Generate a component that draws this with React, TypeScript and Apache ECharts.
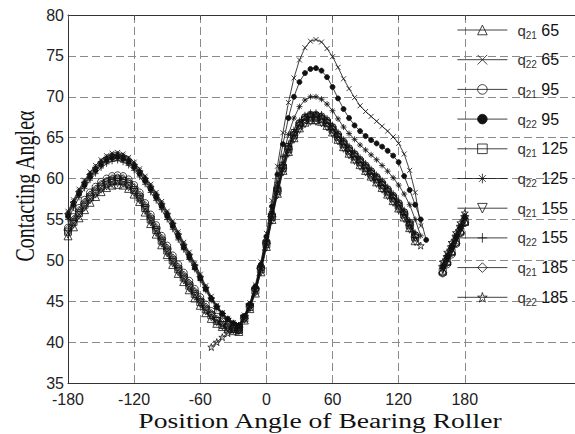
import { useEffect, useRef } from 'react';
import * as echarts from 'echarts';

// ---------- data ----------
const seriesNames = ['q21 65', 'q22 65', 'q21 95', 'q22 95', 'q21 125', 'q22 125', 'q21 155', 'q22 155', 'q21 185', 'q22 185'];
const xTicks = [-180, -120, -60, 0, 60, 120, 180];
const yMin = 35;
const yMax = 80;

const xLeft = [-180, -175, -170, -165, -160, -155, -150, -145, -140, -135, -130, -125, -120, -115, -110, -105, -100, -95, -90, -85, -80, -75, -70, -65, -60, -55, -50, -45, -40, -35, -30, -25];
const xLead = [-50, -45, -40, -35, -30];
const xMid = [-25, -20, -15, -10, -5, 0, 5, 10, 15, 20, 25, 30, 35, 40, 45, 50, 55, 60, 65, 70, 75, 80, 85, 90, 95, 100, 105, 110, 115, 120, 125, 130, 135, 140, 145];
const xRight = [160, 164, 168, 172, 176, 180];

// left hump
const q21_65_L = [53.0, 54.1, 55.2, 56.2, 57.1, 57.8, 58.4, 58.9, 59.2, 59.3, 59.2, 58.8, 58.1, 57.2, 55.9, 54.5, 53.2, 51.9, 50.7, 49.5, 48.4, 47.4, 46.4, 45.4, 44.5, 43.6, 42.9, 42.3, 41.9, 41.6, 41.4, 41.3];
const q21_95_L = [54.0, 55.3, 56.4, 57.4, 58.3, 59.0, 59.6, 60.0, 60.3, 60.4, 60.3, 59.9, 59.2, 58.3, 57.0, 55.6, 54.3, 53.0, 51.8, 50.6, 49.5, 48.5, 47.5, 46.5, 45.5, 44.6, 43.8, 43.1, 42.5, 42.1, 41.8, 41.6];
const q21_125_L = [53.5, 54.7, 55.8, 56.8, 57.7, 58.4, 59.0, 59.4, 59.7, 59.8, 59.7, 59.3, 58.6, 57.7, 56.4, 55.0, 53.7, 52.4, 51.2, 50.0, 48.9, 47.9, 46.9, 45.9, 44.9, 44.0, 43.3, 42.6, 42.1, 41.8, 41.6, 41.5];
const q21_155_L = [53.2, 54.4, 55.5, 56.5, 57.4, 58.1, 58.7, 59.1, 59.4, 59.5, 59.4, 59.0, 58.3, 57.4, 56.1, 54.7, 53.4, 52.1, 50.9, 49.7, 48.6, 47.6, 46.6, 45.6, 44.7, 43.8, 43.1, 42.5, 42.0, 41.7, 41.5, 41.4];
const q21_185_L = [53.8, 55.0, 56.1, 57.1, 58.0, 58.7, 59.3, 59.7, 60.0, 60.1, 60.0, 59.6, 58.9, 58.0, 56.7, 55.3, 54.0, 52.7, 51.5, 50.3, 49.2, 48.2, 47.2, 46.2, 45.2, 44.3, 43.5, 42.8, 42.3, 41.9, 41.7, 41.5];
const q22_65_L = [56.0, 57.4, 58.7, 59.8, 60.8, 61.6, 62.3, 62.8, 63.1, 63.2, 63.0, 62.6, 62.0, 61.2, 60.3, 59.3, 58.3, 57.2, 56.0, 54.8, 53.5, 52.2, 51.0, 49.7, 48.3, 46.9, 45.6, 44.5, 43.6, 42.9, 42.4, 42.1];
const q22_95_L = [55.4, 56.8, 58.1, 59.2, 60.2, 61.0, 61.7, 62.2, 62.5, 62.6, 62.4, 62.0, 61.4, 60.6, 59.7, 58.7, 57.7, 56.6, 55.4, 54.2, 52.9, 51.6, 50.4, 49.1, 47.8, 46.5, 45.3, 44.3, 43.5, 42.8, 42.3, 42.0];
const q22_125_L = [55.8, 57.2, 58.5, 59.6, 60.6, 61.4, 62.1, 62.6, 62.9, 63.0, 62.8, 62.4, 61.8, 61.0, 60.1, 59.1, 58.1, 57.0, 55.8, 54.6, 53.3, 52.0, 50.8, 49.5, 48.1, 46.7, 45.4, 44.4, 43.5, 42.8, 42.3, 42.0];
const q22_155_L = [55.0, 56.4, 57.7, 58.8, 59.8, 60.6, 61.3, 61.8, 62.1, 62.2, 62.0, 61.6, 61.0, 60.2, 59.3, 58.3, 57.3, 56.2, 55.0, 53.8, 52.5, 51.3, 50.1, 48.9, 47.6, 46.3, 45.1, 44.1, 43.3, 42.7, 42.2, 41.9];
const q22_185_L = [55.6, 57.0, 58.3, 59.4, 60.4, 61.2, 61.9, 62.4, 62.7, 62.8, 62.6, 62.2, 61.6, 60.8, 59.9, 58.9, 57.9, 56.8, 55.6, 54.4, 53.1, 51.8, 50.6, 49.3, 47.9, 46.6, 45.3, 44.3, 43.4, 42.8, 42.3, 42.0];

// lead-in of q22 185
const q22_185_lead = [39.4, 40.0, 40.6, 41.1, 41.6];

// middle hump
const q21_65_M = [41.6, 42.7, 44.1, 46.0, 48.6, 51.7, 55.0, 58.2, 61.0, 63.3, 65.0, 66.2, 66.9, 67.2, 67.2, 67.0, 66.5, 65.7, 64.8, 63.9, 63.1, 62.4, 61.7, 61.0, 60.3, 59.6, 58.9, 58.1, 57.3, 56.4, 55.3, 54.0, 52.4, null, null];
const q21_95_M = [41.9, 43.0, 44.5, 46.6, 49.2, 52.3, 55.6, 58.8, 61.6, 63.9, 65.6, 66.8, 67.5, 67.8, 67.8, 67.6, 67.1, 66.3, 65.4, 64.5, 63.7, 63.0, 62.3, 61.6, 60.9, 60.2, 59.5, 58.7, 57.9, 57.0, 55.9, 54.6, 53.1, null, null];
const q21_125_M = [41.8, 42.9, 44.3, 46.3, 48.9, 52.0, 55.3, 58.5, 61.3, 63.6, 65.3, 66.5, 67.2, 67.5, 67.5, 67.3, 66.8, 66.0, 65.1, 64.2, 63.4, 62.7, 62.0, 61.3, 60.6, 59.9, 59.2, 58.4, 57.6, 56.7, 55.6, 54.3, 52.8, null, null];
const q21_155_M = [41.7, 42.8, 44.2, 46.1, 48.6, 51.6, 54.9, 58.0, 60.8, 63.1, 64.8, 66.0, 66.7, 67.0, 67.0, 66.8, 66.3, 65.5, 64.6, 63.7, 62.9, 62.2, 61.5, 60.8, 60.1, 59.4, 58.7, 57.9, 57.1, 56.2, 55.1, 53.8, 52.3, null, null];
const q21_185_M = [41.8, 42.9, 44.4, 46.4, 49.0, 52.1, 55.4, 58.6, 61.4, 63.7, 65.4, 66.6, 67.3, 67.6, 67.6, 67.4, 66.9, 66.1, 65.2, 64.3, 63.5, 62.8, 62.1, 61.4, 60.7, 60.0, 59.3, 58.5, 57.7, 56.8, 55.7, 54.4, 52.9, null, null];
const q22_65_M = [42.1, 43.3, 44.8, 47.0, 49.8, 53.3, 57.3, 61.5, 65.6, 69.3, 72.3, 74.5, 76.0, 76.8, 77.0, 76.7, 75.9, 74.9, 73.6, 72.2, 71.0, 69.9, 68.9, 68.2, 67.6, 67.0, 66.4, 65.8, 65.1, 64.3, 63.0, 61.0, 58.3, 54.2, null];
const q22_95_M = [42.0, 43.2, 44.6, 46.8, 49.5, 52.9, 56.6, 60.5, 64.2, 67.4, 70.0, 71.8, 72.9, 73.4, 73.5, 73.2, 72.4, 71.2, 69.8, 68.5, 67.4, 66.5, 65.8, 65.2, 64.7, 64.3, 63.9, 63.4, 62.8, 62.0, 60.3, 58.6, 56.8, 55.0, 52.5];
const q22_125_M = [42.0, 43.1, 44.5, 46.6, 49.2, 52.5, 56.0, 59.5, 62.7, 65.4, 67.4, 68.8, 69.6, 70.0, 70.0, 69.7, 69.1, 68.3, 67.3, 66.3, 65.5, 64.8, 64.1, 63.5, 62.9, 62.3, 61.6, 60.9, 60.1, 59.2, 58.1, 56.8, 55.0, 53.0, null];
const q22_155_M = [41.9, 43.0, 44.5, 46.6, 49.3, 52.5, 55.9, 59.1, 62.0, 64.3, 66.0, 67.1, 67.8, 68.1, 68.1, 67.9, 67.4, 66.6, 65.7, 64.8, 64.0, 63.3, 62.6, 61.9, 61.2, 60.5, 59.8, 59.0, 58.2, 57.3, 56.2, 54.9, 53.4, null, null];
const q22_185_M = [42.0, 43.0, 44.5, 46.5, 49.1, 52.2, 55.5, 58.7, 61.5, 63.8, 65.5, 66.7, 67.4, 67.7, 67.7, 67.5, 67.0, 66.2, 65.3, 64.4, 63.6, 62.9, 62.2, 61.5, 60.8, 60.1, 59.4, 58.6, 57.8, 56.9, 55.8, 54.5, 53.0, 51.8, null];

// right short segment
const q21_65_R = [48.8, 50.0, 51.2, 52.5, 53.7, 54.8];
const q22_65_R = [49.6, 50.7, 51.9, 53.1, 54.3, 55.5];
const q21_95_R = [48.4, 49.5, 50.7, 52.0, 53.3, 54.6];
const q22_95_R = [49.2, 50.4, 51.6, 52.8, 54.0, 55.2];
const q21_125_R = [48.6, 49.8, 51.0, 52.2, 53.5, 54.7];
const q22_125_R = [49.4, 50.6, 51.8, 53.0, 54.2, 55.4];
const q21_155_R = [48.9, 50.1, 51.3, 52.6, 53.8, 55.0];
const q22_155_R = [49.0, 50.2, 51.4, 52.7, 53.9, 55.1];
const q21_185_R = [48.5, 49.7, 50.9, 52.1, 53.4, 54.6];
const q22_185_R = [49.8, 51.0, 52.2, 53.4, 54.6, 55.8];

// ---------- styling ----------
const SYM_X = 'path://M0,0L10,10M10,0L0,10';
const SYM_PLUS = 'path://M5,0L5,10M0,5L10,5';
const SYM_AST = 'path://M5,0L5,10M0,5L10,5M1.5,1.5L8.5,8.5M8.5,1.5L1.5,8.5';
const SYM_STAR = 'path://M5,0L6.18,3.8L10,3.8L6.9,6.1L8.1,10L5,7.6L1.9,10L3.1,6.1L0,3.8L3.82,3.8Z';

const specs = [
  { name: seriesNames[0], symbol: 'triangle', size: 8, filled: false, rotate: 0, L: q21_65_L, M: q21_65_M, R: q21_65_R },
  { name: seriesNames[1], symbol: SYM_X, size: 5, filled: false, rotate: 0, L: q22_65_L, M: q22_65_M, R: q22_65_R },
  { name: seriesNames[2], symbol: 'circle', size: 7, filled: false, rotate: 0, L: q21_95_L, M: q21_95_M, R: q21_95_R },
  { name: seriesNames[3], symbol: 'circle', size: 5, filled: true, rotate: 0, L: q22_95_L, M: q22_95_M, R: q22_95_R },
  { name: seriesNames[4], symbol: 'rect', size: 7, filled: false, rotate: 0, L: q21_125_L, M: q21_125_M, R: q21_125_R },
  { name: seriesNames[5], symbol: SYM_AST, size: 6, filled: false, rotate: 0, L: q22_125_L, M: q22_125_M, R: q22_125_R },
  { name: seriesNames[6], symbol: 'triangle', size: 8, filled: false, rotate: 180, L: q21_155_L, M: q21_155_M, R: q21_155_R },
  { name: seriesNames[7], symbol: SYM_PLUS, size: 6, filled: false, rotate: 0, L: q22_155_L, M: q22_155_M, R: q22_155_R },
  { name: seriesNames[8], symbol: 'diamond', size: 8, filled: false, rotate: 0, L: q21_185_L, M: q21_185_M, R: q21_185_R },
  { name: seriesNames[9], symbol: SYM_STAR, size: 7, filled: false, rotate: 0, L: q22_185_L, M: q22_185_M, R: q22_185_R, lead: q22_185_lead },
];

const pairs = (xs: number[], ys: (number | null)[]) =>
  xs.map((x, i) => [x, ys[i]]).filter((p) => p[1] !== null && p[1] !== undefined);

const gridLine = { type: [8, 4] as number[], color: '#8a8a8a', width: 1 };
const FONT = 'Liberation Sans';
const HOLLOW = 'rgba(255,255,255,0)';

function buildOption() {
  const series = specs.map((s) => {
    const data: any[] = [
      ...pairs(xLeft, s.L),
      [-25, null],
      ...(s.lead ? pairs(xLead, s.lead) : []),
      ...pairs(xMid, s.M),
      [150, null],
      ...pairs(xRight, s.R),
    ];
    return {
      name: s.name,
      type: 'line',
      data,
      symbol: s.symbol,
      symbolSize: s.size,
      symbolRotate: s.rotate,
      showAllSymbol: true,
      connectNulls: false,
      lineStyle: { color: '#111', width: 0.8 },
      itemStyle: {
        color: s.filled ? '#111' : HOLLOW,
        borderColor: '#111',
        borderWidth: 0.8,
      },
      emphasis: { disabled: true },
      z: 3,
    };
  });

  return {
    animation: false,
    backgroundColor: '#fff',
    textStyle: { fontFamily: FONT },
    grid: { left: 68, top: 15, right: -1, bottom: 51, containLabel: false },
    xAxis: [
      {
        type: 'value',
        position: 'bottom',
        min: -180,
        max: 280,
        interval: 60,
        axisLine: { show: true, onZero: false, lineStyle: { color: '#333', width: 1 } },
        axisTick: { show: false, customValues: xTicks },
        splitLine: { show: true, showMinLine: false, lineStyle: gridLine },
        axisLabel: {
          fontSize: 16,
          color: '#222',
          fontFamily: FONT,
          margin: 8,
          customValues: xTicks,
          formatter: (v: number) => (v > 180 ? '' : String(v)),
        },
      },
      {
        type: 'value',
        position: 'top',
        min: -180,
        max: 280,
        interval: 60,
        axisLine: { show: true, onZero: false, lineStyle: { color: '#333', width: 1 } },
        axisTick: { show: true, inside: true, length: 5, customValues: xTicks, lineStyle: { color: '#555' } },
        splitLine: { show: false },
        axisLabel: { show: false },
      },
    ],
    yAxis: {
      type: 'value',
      position: 'left',
      min: yMin,
      max: yMax,
      interval: 5,
      axisLine: { show: true, onZero: false, lineStyle: { color: '#333', width: 1 } },
      axisTick: { show: false },
      axisLabel: { fontSize: 16, color: '#222', fontFamily: FONT, margin: 4 },
      splitLine: { show: true, lineStyle: gridLine },
    },
    legend: {
      orient: 'vertical',
      left: 457,
      top: 22,
      padding: 0,
      itemWidth: 50,
      itemHeight: 12,
      itemGap: 11.7,
      selectedMode: false,
      data: specs.map((s) => ({
        name: s.name,
        itemStyle: { color: s.filled ? '#111' : HOLLOW, borderColor: '#111', borderWidth: 0.8 },
        lineStyle: { color: '#111', width: 0.8 },
      })),
      formatter: (name: string) => {
        const [a, b] = name.split(' ');
        return `{q|q}{s|${a.slice(1)}}{n| ${b}}`;
      },
      textStyle: {
        color: '#111',
        rich: {
          q: { fontSize: 15, fontFamily: FONT, lineHeight: 20, padding: [0, 0, 0, 5], color: '#333' },
          s: { fontSize: 10, fontFamily: FONT, lineHeight: 10, verticalAlign: 'bottom', color: '#333' },
          n: { fontSize: 16, fontFamily: FONT, lineHeight: 20, color: '#111' },
        },
      },
    },
    graphic: [
      {
        type: 'text',
        x: 320,
        y: 421,
        scaleX: 1.38,
        silent: true,
        style: {
          text: 'Position Angle of Bearing Roller',
          font: '20px "Liberation Serif"',
          fill: '#111',
          textAlign: 'center',
          textVerticalAlign: 'middle',
        },
      },
      {
        type: 'text',
        x: 24,
        y: 186,
        rotation: Math.PI / 2,
        scaleY: 1.4,
        silent: true,
        style: {
          text: 'Contacting Angleα',
          font: '20px "Liberation Serif"',
          fill: '#111',
          textAlign: 'center',
          textVerticalAlign: 'middle',
        },
      },
    ],
    series,
  };
}

export default function App() {
  const ref = useRef<HTMLDivElement>(null);
  useEffect(() => {
    if (!ref.current) return;
    const chart = echarts.init(ref.current, null, { renderer: 'svg' });
    chart.setOption(buildOption() as any);
    return () => chart.dispose();
  }, []);
  return (
    <div
      ref={ref}
      style={{ position: 'absolute', left: 0, top: 0, width: 575, height: 434, background: '#fff', overflow: 'hidden' }}
    />
  );
}
